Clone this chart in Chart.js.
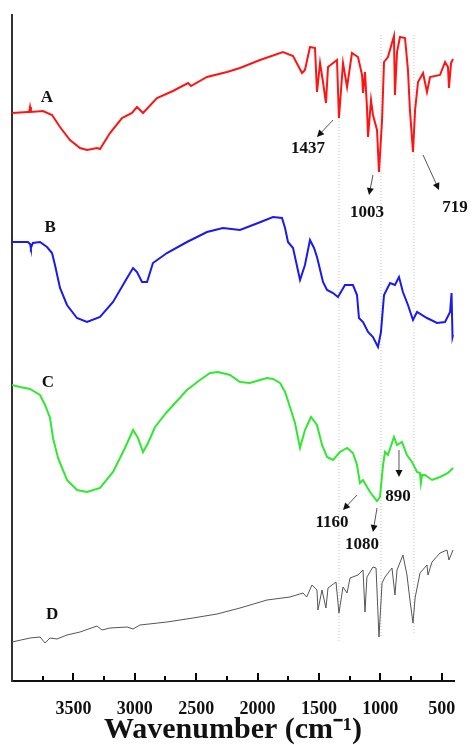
<!DOCTYPE html>
<html>
<head>
<meta charset="utf-8">
<script src="https://cdn.jsdelivr.net/npm/chart.js@4.4.0/dist/chart.umd.min.js"></script>
<style>
  body { margin: 0; background: #fff; }
  canvas { display: block; }
</style>
</head>
<body>
<canvas id="ftir" width="472" height="745"></canvas>
<script>
// wavenumber (cm-1) and stacked transmittance (a.u.)
const wnA = [4000,3870,3860,3853,3846,3747,3674,3609,3528,3446,3389,3308,3283,3202,3104,3023,2982,2933,2819,2689,2566,2542,2412,2249,2143,1980,1793,1711,1638,1614,1573,1532,1516,1491,1467,1443,1426,1353,1337,1304,1271,1231,1182,1149,1141,1125,1109,1100,1076,1060,1027,1011,986,970,938,889,881,864,840,799,775,759,734,717,693,652,620,595,514,473,449,441,424,408];
const trA = [568,569,569,574,569,570,566,554,541,533,531,533,532,548,563,568,574,568,583,590,598,595,604,609,613,621,629,625,608,611,634,633,589,618,599,578,614,621,563,618,594,628,624,606,588,609,574,544,581,566,551,509,561,619,624,645,586,629,644,643,611,571,529,571,599,608,589,604,606,619,614,593,618,622];

const wnB = [4000,3870,3853,3846,3830,3772,3715,3674,3650,3609,3552,3471,3389,3283,3177,3063,3014,2982,2941,2900,2852,2738,2575,2412,2282,2143,1996,1874,1801,1776,1752,1711,1654,1614,1573,1540,1516,1500,1467,1434,1385,1345,1288,1223,1190,1174,1141,1100,1060,1019,995,970,921,881,848,816,775,734,701,620,538,473,432,420,412,408];
const trB = [439,439,437,433,438,439,434,428,416,393,376,363,359,364,379,403,413,409,399,399,418,428,439,449,453,451,458,464,463,453,439,433,401,416,441,433,424,416,399,391,388,384,396,396,386,363,359,349,344,334,349,386,398,396,404,389,376,361,369,363,358,359,369,388,344,346];

const wnC = [4000,3935,3853,3772,3731,3690,3666,3625,3552,3471,3389,3283,3177,3080,3014,2974,2933,2892,2835,2738,2575,2469,2387,2322,2224,2143,2062,1980,1923,1874,1817,1776,1736,1695,1654,1614,1565,1516,1475,1434,1385,1329,1271,1223,1190,1166,1141,1084,1027,1003,978,962,938,889,864,824,783,742,701,677,670,660,636,579,514,449,408];
const trC = [296,294,292,286,276,263,243,223,201,191,189,193,209,233,251,243,229,238,254,269,291,301,308,309,306,299,298,301,303,302,298,289,274,258,233,251,264,256,236,224,221,229,233,228,216,198,201,189,180,184,216,229,226,244,236,239,226,219,209,208,198,206,206,201,204,208,213];

const wnD = [4000,3853,3772,3731,3690,3633,3552,3446,3308,3267,3202,3063,3014,2958,2738,2526,2330,2143,1923,1736,1630,1600,1557,1516,1508,1475,1443,1426,1361,1337,1304,1271,1247,1182,1141,1125,1109,1060,1035,1011,986,962,905,881,864,816,783,759,734,717,677,620,612,579,514,457,441,408];
const trD = [39,43,44,38,43,42,46,49,55,51,53,54,52,56,59,63,67,73,81,84,88,84,96,91,71,91,73,93,99,68,94,88,103,106,111,69,104,114,113,44,98,104,113,86,111,126,106,81,58,83,108,116,106,119,128,131,121,131];

const curveNames = ['A', 'B', 'C', 'D'];
const curveLabelX = [3715, 3690, 3707, 3674];
const curveLabelY = [583, 453, 298, 66];

const tickLabels = [3500, 3000, 2500, 2000, 1500, 1000, 500];
const minorTicks = [3750, 3250, 2750, 2250, 1750, 1250, 750];

// dotted guide lines
const guideWn = [1337, 995, 726];
const guideTop = [563, 646, 646];
const guideBottom = [38, 44, 46];

// peak annotations
const peakText = ['1437', '1003', '719', '1160', '1080', '890'];
const peakTextWn = [1589, 1109, 392, 1394, 1149, 856];
const peakTextY = [532, 468, 473, 158, 136, 184];
const arrowFromWn = [1385, 1060, 652, 1190, 1027, 848];
const arrowFromY = [561, 506, 526, 186, 173, 231];
const arrowToWn = [1516, 1092, 522, 1304, 1060, 848];
const arrowToY = [544, 486, 491, 171, 149, 204];

function pairs(xs, ys) {
    return xs.map((x, i) => ({x: x, y: ys[i]}));
}

const serif = '"Liberation Serif", "Times New Roman", serif';

let datasets = [
    {label: 'A', data: pairs(wnA, trA), borderColor: '#ff1414', borderWidth: 2},
    {label: 'B', data: pairs(wnB, trB), borderColor: '#1a1aee', borderWidth: 2},
    {label: 'C', data: pairs(wnC, trC), borderColor: '#2fe82f', borderWidth: 2},
    {label: 'D', data: pairs(wnD, trD), borderColor: '#555555', borderWidth: 1}
];
guideWn.forEach((w, i) => {
    datasets.push({
        label: 'guide' + i,
        data: [{x: w, y: guideTop[i]}, {x: w, y: guideBottom[i]}],
        borderColor: '#c4c4c4',
        borderWidth: 1,
        borderDash: [1, 2]
    });
});

function drawArrow(ctx, x1, y1, x2, y2) {
    const ang = Math.atan2(y2 - y1, x2 - x1);
    const c = Math.cos(ang), s = Math.sin(ang);
    ctx.strokeStyle = '#555';
    ctx.lineWidth = 1;
    ctx.beginPath();
    ctx.moveTo(x1, y1);
    ctx.lineTo(x2 - 5 * c, y2 - 5 * s);
    ctx.stroke();
    ctx.fillStyle = '#111';
    ctx.beginPath();
    ctx.moveTo(x2, y2);
    ctx.lineTo(x2 - 7 * c + 3.5 * s, y2 - 7 * s - 3.5 * c);
    ctx.lineTo(x2 - 7 * c - 3.5 * s, y2 - 7 * s + 3.5 * c);
    ctx.closePath();
    ctx.fill();
}

const decorations = {
    id: 'decorations',
    afterDraw(chart) {
        const ctx = chart.ctx;
        const xs = chart.scales.x;
        const ys = chart.scales.y;
        const base = chart.chartArea.bottom;
        ctx.save();

        // inward ticks on the wavenumber axis
        ctx.strokeStyle = '#000';
        ctx.lineWidth = 2;
        ctx.setLineDash([]);
        tickLabels.concat(minorTicks).forEach((v) => {
            const px = Math.round(xs.getPixelForValue(v));
            const len = v % 500 === 0 ? 7 : 4;
            ctx.beginPath();
            ctx.moveTo(px, base - 1);
            ctx.lineTo(px, base - 1 - len);
            ctx.stroke();
        });

        ctx.textAlign = 'center';
        ctx.textBaseline = 'middle';
        ctx.font = 'bold 17px ' + serif;
        curveNames.forEach((n, i) => {
            ctx.fillStyle = '#111';
            ctx.fillText(n, xs.getPixelForValue(curveLabelX[i]), ys.getPixelForValue(curveLabelY[i]));
        });

        peakText.forEach((t, i) => {
            ctx.fillStyle = '#111';
            ctx.fillText(t, xs.getPixelForValue(peakTextWn[i]), ys.getPixelForValue(peakTextY[i]));
            drawArrow(ctx,
                xs.getPixelForValue(arrowFromWn[i]), ys.getPixelForValue(arrowFromY[i]),
                xs.getPixelForValue(arrowToWn[i]), ys.getPixelForValue(arrowToY[i]));
        });
        ctx.restore();
    }
};

new Chart(document.getElementById('ftir').getContext('2d'), {
    type: 'line',
    data: {datasets: datasets},
    options: {
        responsive: false,
        animation: false,
        layout: {padding: {left: 12, top: 15, right: 18, bottom: 0}},
        elements: {point: {radius: 0}, line: {tension: 0}},
        plugins: {legend: {display: false}, tooltip: {enabled: false}},
        scales: {
            x: {
                type: 'linear',
                min: 400,
                max: 4000,
                reverse: true,
                grid: {display: false},
                border: {display: true, color: '#111', width: 2},
                afterBuildTicks: (scale) => {
                    scale.ticks = tickLabels.map((v) => ({value: v}));
                },
                afterFit: (scale) => { scale.height = 64; },
                ticks: {
                    color: '#111',
                    padding: 10,
                    maxRotation: 0,
                    autoSkip: false,
                    font: {family: serif, size: 18, weight: 'bold'},
                    callback: (v) => String(v)
                },
                title: {
                    display: true,
                    text: 'Wavenumber (cm\u207B\u00B9)',
                    color: '#111',
                    padding: 0,
                    font: {family: serif, size: 30, weight: 'bold', lineHeight: 1}
                }
            },
            y: {
                min: 0,
                max: 666,
                grid: {display: false},
                border: {display: true, color: '#333', width: 2},
                ticks: {display: false},
                afterFit: (scale) => { scale.width = 0; }
            }
        }
    },
    plugins: [decorations]
});
</script>
</body>
</html>
